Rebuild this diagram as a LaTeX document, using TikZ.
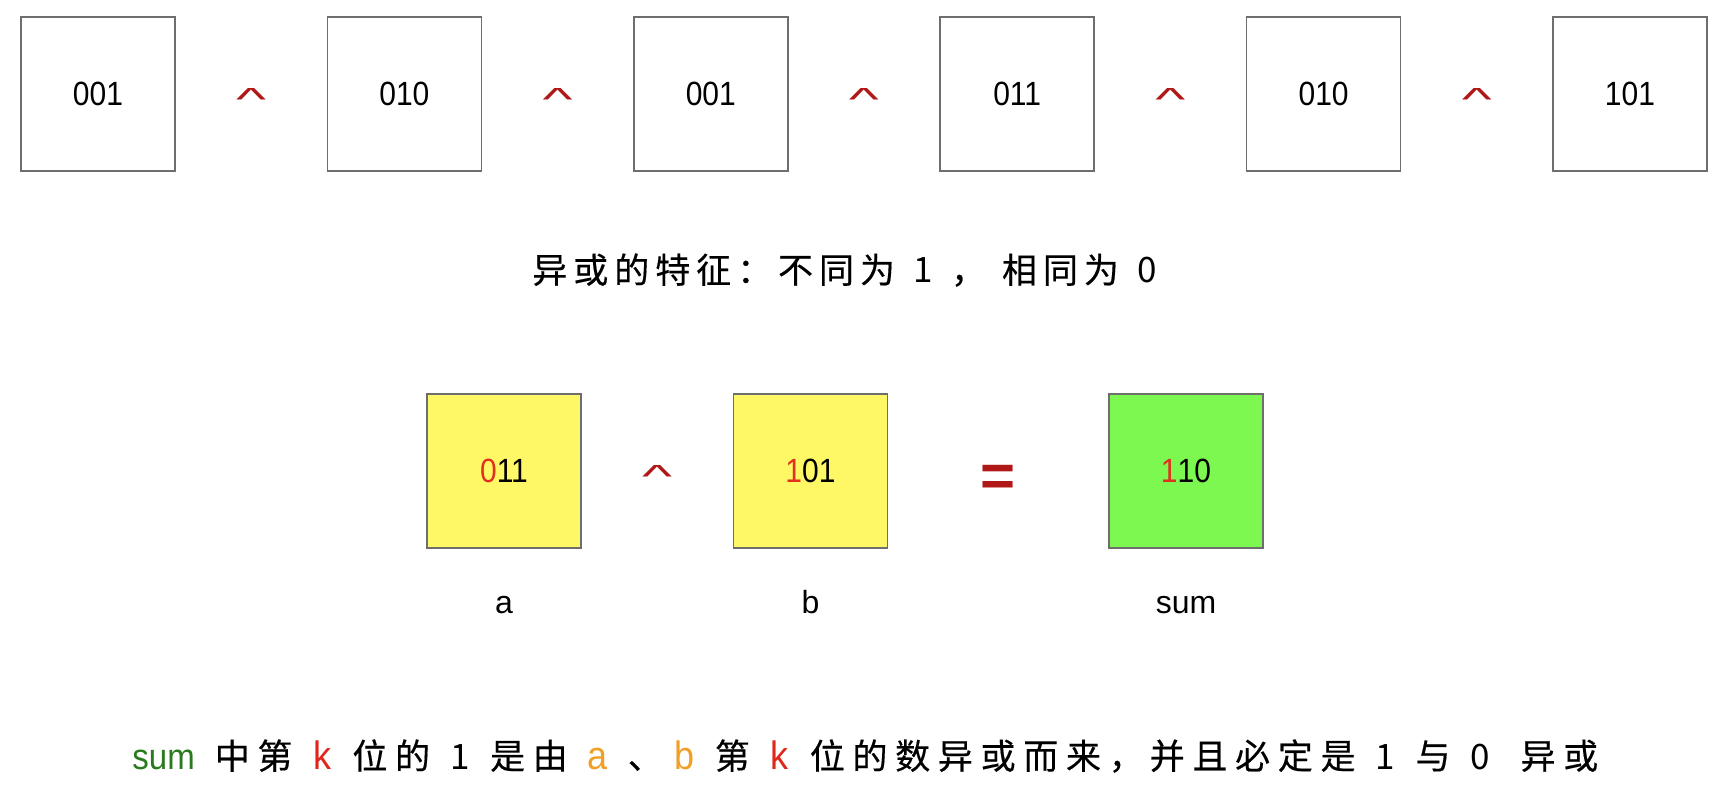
\documentclass[tikz,border=0pt]{standalone}
\usepackage{fontspec}
\setmainfont{Liberation Sans}
\newfontfamily\cjk[LetterSpace=22,FakeBold=0.4]{Noto Sans CJK SC}
\newfontfamily\cjktop[LetterSpace=17,FakeBold=0.4]{Noto Sans CJK SC}
\newfontfamily\cjkdig{Noto Sans CJK SC}
\newfontfamily\latin{Liberation Sans}
\definecolor{boxline}{HTML}{6E6E6E}
\definecolor{opred}{HTML}{B01818}
\definecolor{bitred}{HTML}{E0301E}
\definecolor{fillyellow}{HTML}{FFF866}
\definecolor{fillgreen}{HTML}{7CF850}
\definecolor{sumgreen}{HTML}{2A7A1E}
\definecolor{korange}{HTML}{F0A028}
\definecolor{kred}{HTML}{E0261B}
\newcommand{\hs}{\hspace{10pt}}
\newcommand{\lat}[1]{\makebox[10pt]{\latin\fontsize{18}{20}\selectfont\scalebox{1}[1.1]{#1}}}
\newcommand{\dig}[1]{\makebox[10pt]{\cjkdig\fontsize{17.5}{22}\selectfont #1}}
\newcommand{\xorsym}{\scalebox{1}[0.5]{\textasciicircum}}
\newcommand{\bits}[1]{\scalebox{1}[1.12]{#1}}
\begin{document}
\begin{tikzpicture}[x=0.5pt,y=-0.5pt,
  bitbox/.style={draw=boxline, line width=0.8pt, minimum size=77pt, inner sep=0pt,
    font=\fontsize{15}{16}\selectfont},
  caretop/.style={text=opred, inner sep=0pt, text height=16.8pt, text depth=0pt,
    font=\fontsize{32}{32}\selectfont},
  eqop/.style={text=opred, inner sep=0pt, text height=21pt, text depth=0pt,
    font=\bfseries\fontsize{30}{30}\selectfont},
  varlabel/.style={inner sep=0pt, anchor=base, font=\fontsize{16}{18}\selectfont},
  cjkline/.style={inner sep=0pt, anchor=base west, font=\cjk\fontsize{17.5}{22}\selectfont},
  topline/.style={inner sep=0pt, anchor=base west, font=\cjktop\fontsize{17.5}{22}\selectfont}
]
\useasboundingbox (0,0) rectangle (1728,785);
% top row
\foreach \v [count=\i from 0] in {001,010,001,011,010,101}{
  \node[bitbox] (t\i) at ({98+306.4*\i},94) {\bits{\v}};
}
\foreach \i [count=\j from 1] in {0,...,4}{
  \path (t\i) -- (t\j) node[midway, caretop] (c\i) {\xorsym};
}
% property text
\node[topline] (prop) at (532,283) {异或的特征：不同为\hspace{9pt}\dig{1}\hspace{9pt}，\hspace{8pt}相同为\hspace{9pt}\dig{0}};
% middle row
\node[bitbox, fill=fillyellow] (a) at (504,471) {\bits{\textcolor{bitred}{0}11}};
\node[bitbox, fill=fillyellow] (b) at (810.5,471) {\bits{\textcolor{bitred}{1}01}};
\node[bitbox, fill=fillgreen] (s) at (1186,471) {\bits{\textcolor{bitred}{1}10}};
\path (a) -- (b) node[midway, caretop] (cab) {\xorsym};
\path (b) -- (s) node[midway, eqop, yshift=-2.2pt] (eq) {=};
\node[varlabel] (la) at (504,613) {a};
\node[varlabel] (lb) at (810.5,613) {b};
\node[varlabel] (ls) at (1186,613) {sum};
% bottom text
\node[cjkline] (expl) at (132,769)
  {\textcolor{sumgreen}{\latin\fontsize{16.5}{18}\selectfont\scalebox{1}[1.1]{sum}}\hs 中第\hs\textcolor{kred}{\lat{k}}\hs 位的\hs\dig{1}\hs 是由\hs\textcolor{korange}{\lat{a}}\hs 、\hspace{6pt}\textcolor{korange}{\lat{b}}\hs 第\hs\textcolor{kred}{\lat{k}}\hs 位的数异或而来，\hspace{3pt}并且必定是\hs\dig{1}\hs 与\hs\dig{0}\hspace{15pt}异或};
\end{tikzpicture}
\end{document}
